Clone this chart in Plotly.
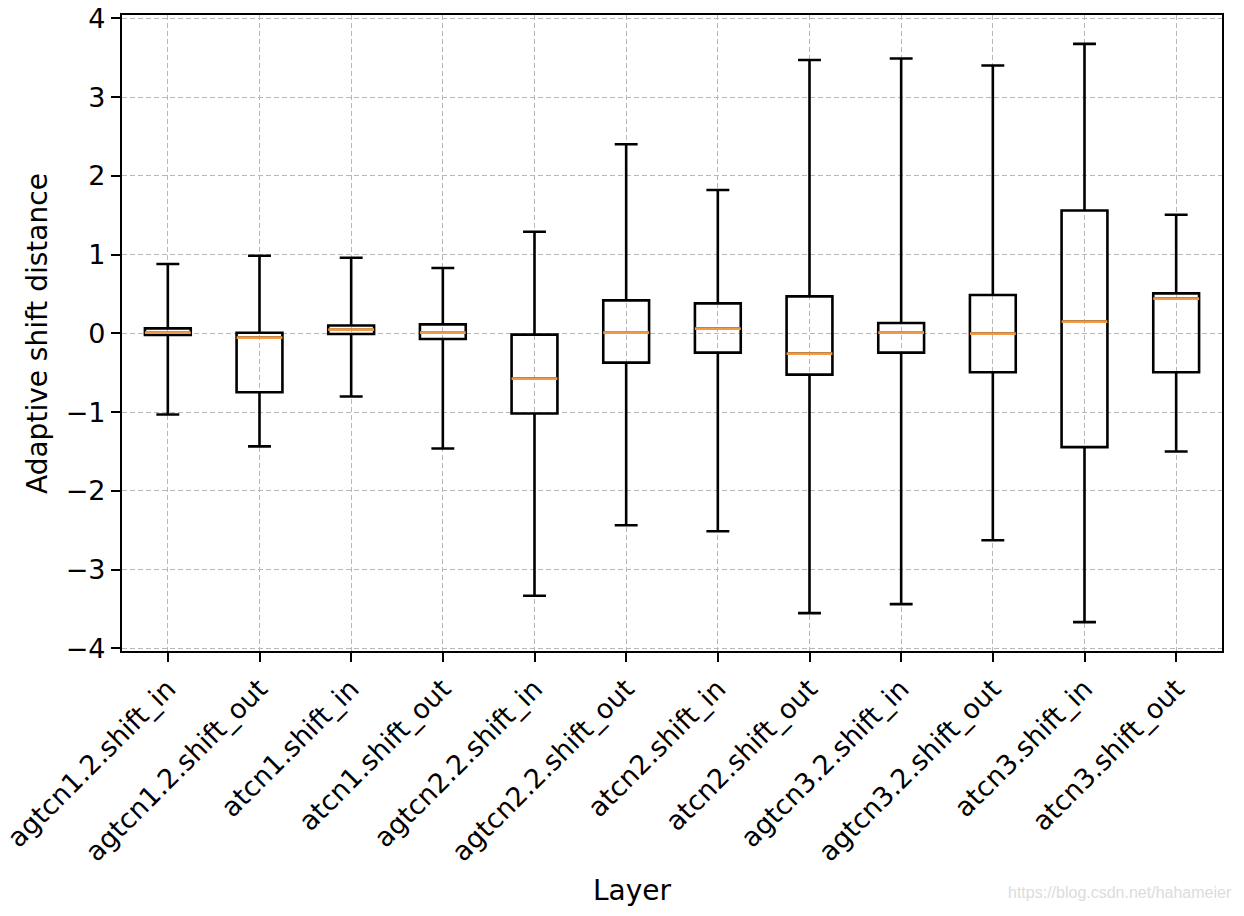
import plotly.graph_objects as go

layers = ["agtcn1.2.shift_in", "agtcn1.2.shift_out", "atcn1.shift_in", "atcn1.shift_out",
          "agtcn2.2.shift_in", "agtcn2.2.shift_out", "atcn2.shift_in", "atcn2.shift_out",
          "agtcn3.2.shift_in", "agtcn3.2.shift_out", "atcn3.shift_in", "atcn3.shift_out"]
upper_whisker = [0.88, 0.985, 0.96, 0.83, 1.29, 2.40, 1.82, 3.47, 3.49, 3.40, 3.675, 1.505]
q3_values = [0.063, 0.008, 0.10, 0.114, -0.017, 0.418, 0.38, 0.469, 0.131, 0.486, 1.559, 0.507]
medians = [0.008, -0.055, 0.046, 0.008, -0.575, 0.008, 0.059, -0.258, 0.008, -0.004, 0.148, 0.44]
q1_values = [-0.02, -0.748, -0.008, -0.072, -1.018, -0.372, -0.245, -0.524, -0.245, -0.494, -1.445, -0.494]
lower_whisker = [-1.03, -1.436, -0.803, -1.462, -3.333, -2.438, -2.514, -3.553, -3.439, -2.628, -3.667, -1.50]
y_ticks = [-4, -3, -2, -1, 0, 1, 2, 3, 4]
y_tick_labels = ["\u22124", "\u22123", "\u22122", "\u22121", "0", "1", "2", "3", "4"]

positions = list(range(1, len(layers) + 1))
FONT = "DejaVu Sans"
FS = 28
TICK_FS = 27
ORANGE = "#f09a45"

fig = go.Figure()
fig.add_trace(go.Box(
    x=positions, q1=q1_values, median=medians, q3=q3_values,
    lowerfence=lower_whisker, upperfence=upper_whisker,
    width=0.5, whiskerwidth=0.5,
    fillcolor="rgba(0,0,0,0)", line=dict(color="black", width=2.6),
    boxpoints=False, hoverinfo="skip", showlegend=False,
))
fig.add_trace(go.Box(
    x=positions, q1=medians, median=medians, q3=medians,
    lowerfence=medians, upperfence=medians,
    width=0.5, whiskerwidth=0.5,
    fillcolor="rgba(0,0,0,0)", line=dict(color=ORANGE, width=2.8),
    boxpoints=False, hoverinfo="skip", showlegend=False,
))

axis_common = dict(
    showline=True, linecolor="black", linewidth=2.2, mirror=True,
    ticks="outside", ticklen=9, tickwidth=2.2, tickcolor="black",
    showgrid=True, gridcolor="#b8b8b8", gridwidth=1, griddash="5px,3px",
    zeroline=False, automargin=False, ticklabeloverflow="allow",
    tickfont=dict(family=FONT, size=TICK_FS, color="black"),
)

# the page body has an 8px margin, so the figure is drawn 8px smaller
fig.update_layout(
    width=1236, height=908,
    margin=dict(l=114, r=22, t=7, b=265),
    paper_bgcolor="white", plot_bgcolor="white",
    boxmode="overlay",
    xaxis=dict(axis_common, range=[0.5, 12.5], tickvals=positions, ticktext=layers,
               tickangle=-45),
    yaxis=dict(axis_common, range=[-4.034, 4.042], tickvals=y_ticks, ticktext=y_tick_labels),
    annotations=[
        dict(text="Layer", xref="paper", yref="paper", x=0.4645, y=-0.3758,
             xanchor="center", yanchor="middle", showarrow=False,
             font=dict(family=FONT, size=FS, color="black")),
        dict(text="Adaptive shift distance", xref="paper", yref="paper", x=-0.0773, y=0.5,
             xanchor="center", yanchor="middle", showarrow=False, textangle=-90,
             font=dict(family=FONT, size=FS, color="black")),
        dict(text="https://blog.csdn.net/hahameier", xref="paper", yref="paper",
             x=1.0109, y=-0.3805, xanchor="right", yanchor="middle", showarrow=False,
             font=dict(family="Liberation Sans", size=16, color="#dcdcdc")),
    ],
)

fig.write_html("out.html")
